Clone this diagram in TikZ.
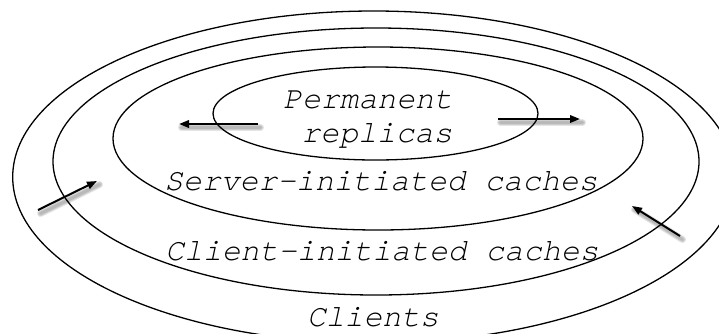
\documentclass[tikz,border=0pt]{standalone}
\usepackage{fontspec}
\setmonofont{texgyrecursor}[Extension=.otf, UprightFont=*-regular, ItalicFont=*-italic,
  BoldFont=*-bold, BoldItalicFont=*-bolditalic]
\usetikzlibrary{arrows.meta,shapes.geometric}

\begin{document}
\begin{tikzpicture}[x=1pt,y=-1pt,
  ring/.style={draw, ellipse, line width=1.3pt, inner sep=0pt, outer sep=0pt},
  lbl/.style={font=\ttfamily\itshape\fontsize{31.4}{36}\selectfont, inner sep=0pt, anchor=base},
  flow/.style={line width=2pt, -{Triangle[length=10pt,width=7.5pt]}},
  flowshade/.style={line width=#1, draw=black, opacity=0.10, line cap=round,
    transform canvas={shift={(2.5,3.5)}}},
]
\useasboundingbox (0,0) rectangle (719,333);

% nested replica rings, outermost first
\node[ring, minimum width=722pt, minimum height=332pt] (clients) at (373.7,177) {};
\node[ring, minimum width=646pt, minimum height=267pt] (clientcache) at (376,161.5) {};
\node[ring, minimum width=530pt, minimum height=183pt] (servercache) at (378,138.5) {};
\node[ring, minimum width=325pt, minimum height=93pt] (permanent) at (375.5,113.5) {};

% ring labels
\node[lbl] (tperm) at (368,108) {Permanent};
\node[lbl] (trepl) at (377,142) {replicas};
\node[lbl] (tserv) at (381,190) {Server-initiated caches};
\node[lbl] (tclic) at (382,260) {Client-initiated caches};
\node[lbl] (tclie) at (373,326) {Clients};

% end points of the propagation arrows
\coordinate (pl0) at (258,124);
\coordinate (pl1) at (179,124);
\coordinate (pr0) at (498,119);
\coordinate (pr1) at (580,119);
\coordinate (cl0) at (38,210);
\coordinate (cl1) at (97,181);
\coordinate (cr0) at (680,236);
\coordinate (cr1) at (632,206);

% soft drop shadows under the arrows
\foreach \w in {7pt,5pt,3pt}{
  \draw[flowshade=\w] (pl0) -- (pl1);
  \draw[flowshade=\w] (pr0) -- (pr1);
  \draw[flowshade=\w] (cl0) -- (cl1);
  \draw[flowshade=\w] (cr0) -- (cr1);
}

% propagation arrows
\draw[flow] (pl0) -- (pl1);
\draw[flow] (pr0) -- (pr1);
\draw[flow] (cl0) -- (cl1);
\draw[flow] (cr0) -- (cr1);
\end{tikzpicture}
\end{document}
